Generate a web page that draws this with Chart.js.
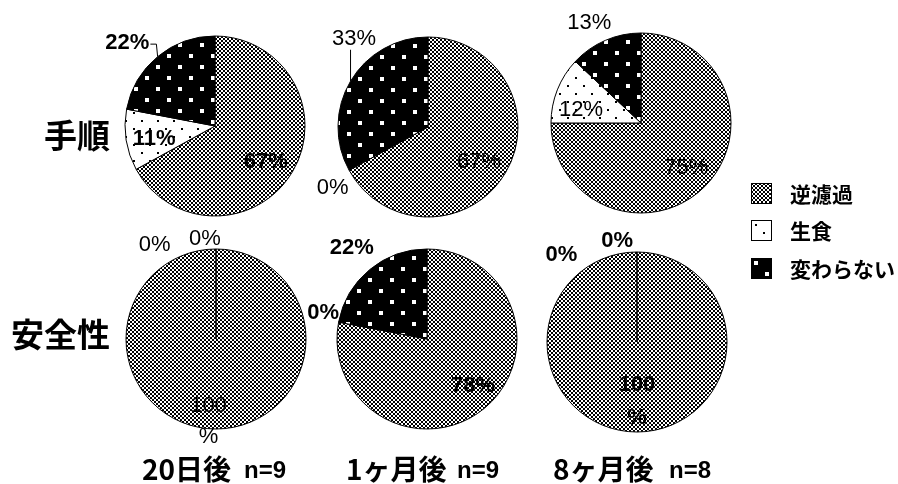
<!DOCTYPE html>
<html lang="ja">
<head>
<meta charset="utf-8">
<script src="https://cdn.jsdelivr.net/npm/chart.js@4"></script>
<style>
  html, body { margin: 0; padding: 0; background: #fff; }
  #stage { position: relative; width: 898px; height: 484px; overflow: hidden; background: #fff; }
  #stage canvas.pie { position: absolute; }
  .txt { position: absolute; white-space: nowrap; color: #000; font-weight: bold;
         font-family: "Noto Sans CJK JP", "Noto Sans", sans-serif; }
  .row { font-size: 33px; line-height: 44px; height: 44px; left: 0; width: 110px; text-align: right; }
  .period { font-size: 28px; line-height: 40px; height: 40px; }
  .nsize { font-size: 24px; line-height: 40px; height: 40px;
           font-family: "Liberation Sans Narrow", "Liberation Sans", sans-serif; }
  .legend-row { position: absolute; left: 751px; height: 22px; }
  .legend-row canvas { position: absolute; left: 0; top: 0; }
  .legend-row span { position: absolute; left: 39px; top: -8px; font-size: 21px; line-height: 36px;
                     font-weight: bold; white-space: nowrap; font-family: "Noto Sans CJK JP", sans-serif; }
</style>
</head>
<body>
<div id="stage"></div>
<script>
// Categories and values (percent of respondents)
const categories = ['逆濾過', '生食', '変わらない'];
const rowLabels = ['手順', '安全性'];
const periodLabels = ['20日後', '1ヶ月後', '8ヶ月後'];
const sampleSizes = ['n=9', 'n=9', 'n=8'];

// 手順
const procedure20d = [67, 11, 22];
const procedure1m  = [67, 0, 33];
const procedure8m  = [75, 12, 13];
// 安全性
const safety20d = [100, 0, 0];
const safety1m  = [78, 0, 22];
const safety8m  = [100, 0, 0];

// ---- fill patterns -------------------------------------------------------
function makePattern(size, paint) {
  const c = document.createElement('canvas');
  c.width = size; c.height = size;
  const g = c.getContext('2d');
  paint(g, size);
  return g.createPattern(c, 'repeat');
}
const checkerFill = makePattern(4, (g) => {
  g.fillStyle = '#fff'; g.fillRect(0, 0, 4, 4);
  g.fillStyle = '#000'; g.fillRect(0, 0, 2, 2); g.fillRect(2, 2, 2, 2);
});
const dotFill = makePattern(16, (g) => {
  g.fillStyle = '#fff'; g.fillRect(0, 0, 16, 16);
  g.fillStyle = '#000'; g.fillRect(4, 4, 2, 2); g.fillRect(12, 12, 2, 2);
});
const squareFill = makePattern(22, (g) => {
  g.fillStyle = '#000'; g.fillRect(0, 0, 22, 22);
  g.fillStyle = '#fff'; g.fillRect(3, 3, 4, 4); g.fillRect(14, 14, 4, 4);
});
const categoryFills = [checkerFill, dotFill, squareFill];

// ---- percentage labels around each slice ---------------------------------
// d: distance from centre in radii, t: angular nudge (deg) from the slice bisector
const sliceLabels = {
  id: 'sliceLabels',
  afterDatasetsDraw(chart, args, opts) {
    const ctx = chart.ctx;
    const values = chart.data.datasets[0].data;
    chart.getDatasetMeta(0).data.forEach((arc, i) => {
      const p = arc.getProps(['x', 'y', 'startAngle', 'endAngle', 'outerRadius'], true);
      const place = opts.places[i];
      const mid = (p.startAngle + p.endAngle) / 2;
      const a = mid + place.t * Math.PI / 180;
      const d = place.d * p.outerRadius;
      const tx = p.x + Math.cos(a) * d;
      const ty = p.y + Math.sin(a) * d;
      const lines = values[i] === 100 ? ['100', '%'] : [values[i] + '%'];
      ctx.save();
      ctx.font = (opts.bold ? 'bold ' : '') + '22px "Liberation Sans Narrow", "Liberation Sans", sans-serif';
      ctx.textAlign = 'center';
      ctx.textBaseline = 'middle';
      ctx.fillStyle = '#000';
      const lh = place.lh || 0;
      lines.forEach((s, k) => ctx.fillText(s, tx, ty + (k - (lines.length - 1) / 2) * lh));
      if (place.leader) {
        const w = ctx.measureText(lines[0]).width;
        const sx = p.x + Math.cos(mid) * p.outerRadius;
        const sy = p.y + Math.sin(mid) * p.outerRadius;
        ctx.beginPath();
        ctx.lineWidth = 1;
        ctx.strokeStyle = '#000';
        ctx.moveTo(sx, sy);
        if (place.leader === 'elbow') {
          ctx.lineTo(tx + w / 2 + 7, ty + 1);
          ctx.lineTo(tx + w / 2 + 1, ty + 1);
        } else {
          ctx.lineTo(sx, ty + 11);
        }
        ctx.stroke();
      }
      ctx.restore();
    });
  }
};

const pies = [
  { values: procedure20d, cx: 215, cy: 126, bold: true,
    places: [{ d: 0.69, t: 4.6 }, { d: 0.69, t: -3 }, { d: 1.34, t: -7, leader: 'elbow' }] },
  { values: procedure1m, cx: 428, cy: 127, bold: false,
    places: [{ d: 0.69, t: 4 }, { d: 1.26, t: -4 }, { d: 1.28, t: 19.4, leader: 'up' }] },
  { values: procedure8m, cx: 641, cy: 123, bold: false,
    places: [{ d: 0.71, t: 0 }, { d: 0.68, t: -9.6 }, { d: 1.25, t: -4 }] },
  { values: safety20d, cx: 216, cy: 339, bold: false,
    places: [{ d: 0.92, t: 5.2, lh: 31 }, { d: 1.25, t: -33 }, { d: 1.12, t: -6.3 }] },
  { values: safety1m, cx: 427, cy: 339, bold: true,
    places: [{ d: 0.73, t: -4.8 }, { d: 1.19, t: 3.2 }, { d: 1.31, t: 0 }] },
  { values: safety8m, cx: 637, cy: 342, bold: true,
    places: [{ d: 0.66, t: 0, lh: 33 }, { d: 1.28, t: -41 }, { d: 1.14, t: -11.2 }] }
];

const stage = document.getElementById('stage');
const CW = 300, CH = 260;

pies.forEach((pie) => {
  const cv = document.createElement('canvas');
  cv.className = 'pie';
  cv.width = CW; cv.height = CH;
  cv.style.left = (pie.cx - CW / 2) + 'px';
  cv.style.top = (pie.cy - CH / 2) + 'px';
  stage.appendChild(cv);
  new Chart(cv, {
    type: 'pie',
    data: {
      labels: categories,
      datasets: [{
        data: pie.values,
        backgroundColor: categoryFills,
        borderColor: '#000',
        borderWidth: 1,
        radius: 90
      }]
    },
    options: {
      responsive: false,
      animation: false,
      events: [],
      layout: { padding: 0 },
      plugins: {
        legend: { display: false },
        tooltip: { enabled: false },
        sliceLabels: { bold: pie.bold, places: pie.places }
      }
    },
    plugins: [sliceLabels]
  });
});

// ---- row and column captions ---------------------------------------------
function addText(cls, text, left, top) {
  const el = document.createElement('div');
  el.className = 'txt ' + cls;
  el.textContent = text;
  if (left !== null) el.style.left = left + 'px';
  el.style.top = top + 'px';
  stage.appendChild(el);
  return el;
}
addText('row', rowLabels[0], null, 112);
addText('row', rowLabels[1], null, 311);

const periodX = [142, 346, 553];
const sizeX = [244, 457, 669];
periodLabels.forEach((s, i) => addText('period', s, periodX[i], 448));
sampleSizes.forEach((s, i) => addText('nsize', s, sizeX[i], 450));

// ---- legend --------------------------------------------------------------
const legendTop = [183, 220, 258];
categories.forEach((name, i) => {
  const row = document.createElement('div');
  row.className = 'legend-row';
  row.style.top = legendTop[i] + 'px';
  const sw = document.createElement('canvas');
  sw.width = 21; sw.height = 21;
  const g = sw.getContext('2d');
  g.fillStyle = categoryFills[i];
  g.fillRect(0, 0, 21, 21);
  g.strokeStyle = '#000';
  g.lineWidth = 1;
  g.strokeRect(0.5, 0.5, 20, 20);
  row.appendChild(sw);
  const label = document.createElement('span');
  label.textContent = name;
  row.appendChild(label);
  stage.appendChild(row);
});
</script>
</body>
</html>
